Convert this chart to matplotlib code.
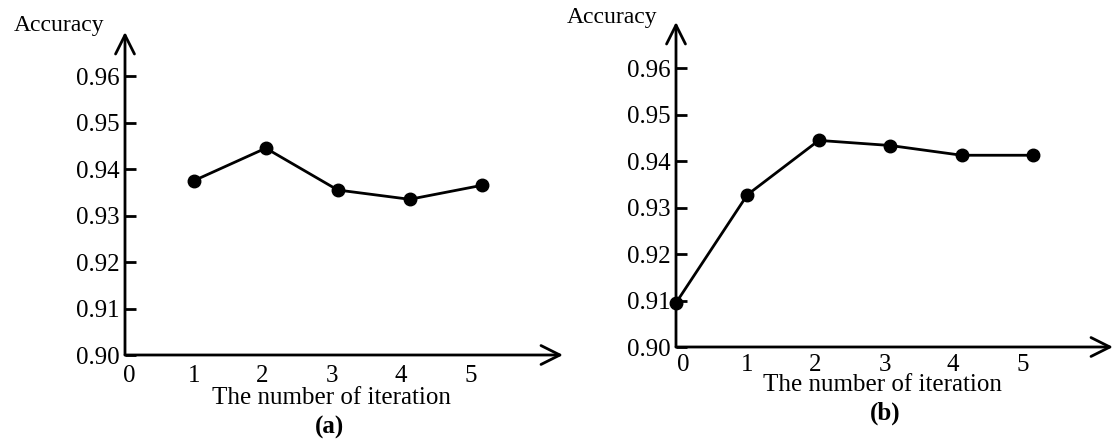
import matplotlib.pyplot as plt

# data
iter_a = [1, 2, 3, 4, 5]
acc_a = [0.9375, 0.9445, 0.9355, 0.9335, 0.9365]

iter_b = [0, 1, 2, 3, 4, 5]
acc_b = [0.9095, 0.9328, 0.9445, 0.9434, 0.9413, 0.9413]

yticks = [0.90, 0.91, 0.92, 0.93, 0.94, 0.95, 0.96]
xtick_labels = ['0', '1', '2', '3', '4', '5']
xtick_pos = [0.1, 1.0, 1.95, 2.92, 3.88, 4.85]

plt.rcParams['font.family'] = 'Liberation Serif'

fig = plt.figure(figsize=(11.13, 4.41), dpi=100)

W, H = 1113.0, 441.0


def make_axes(left, right, bottom, top, xmin, xmax, ymax, xpad):
    ax = fig.add_axes([left / W, 1 - bottom / H, (right - left) / W, (bottom - top) / H])
    ax.set_xlim(xmin, xmax)
    ax.set_ylim(0.90, ymax)
    for s in ax.spines.values():
        s.set_visible(False)
    ax.set_yticks(yticks)
    ax.set_yticklabels(['%.2f' % v for v in yticks])
    ax.set_xticks(xtick_pos)
    ax.set_xticklabels(xtick_labels)
    ax.tick_params(axis='y', direction='in', length=8, width=2, pad=4, labelsize=18)
    ax.tick_params(axis='x', length=0, pad=xpad, labelsize=18)
    # arrowed axes
    ax.annotate('', xy=(1, 0), xytext=(0, 0), xycoords='axes fraction',
                arrowprops=dict(arrowstyle='->', lw=2, mutation_scale=34, shrinkA=0, shrinkB=0),
                annotation_clip=False)
    ax.annotate('', xy=(0, 1), xytext=(0, 0), xycoords='axes fraction',
                arrowprops=dict(arrowstyle='->', lw=2, mutation_scale=34, shrinkA=0, shrinkB=0),
                annotation_clip=False)
    return ax


ax1 = make_axes(125, 563, 355, 32, 0.044, 6.13, 0.9695, 7)
ax1.plot(iter_a, acc_a, color='black', lw=2, marker='o', markersize=9, clip_on=False)

ax2 = make_axes(676, 1113, 347, 22, 0.0, 6.12, 0.970, 5)
ax2.plot(iter_b, acc_b, color='black', lw=2, marker='o', markersize=9, clip_on=False)

# labels placed like the original figure
fig.text(59 / W, 1 - 25 / H, 'Accuracy', ha='center', va='center', fontsize=17)
fig.text(612 / W, 1 - 17 / H, 'Accuracy', ha='center', va='center', fontsize=17)
fig.text(331 / W, 1 - 398 / H, 'The number of iteration', ha='center', va='center', fontsize=18)
fig.text(882 / W, 1 - 385 / H, 'The number of iteration', ha='center', va='center', fontsize=18)
fig.text(330 / W, 1 - 427 / H, '(a)', ha='center', va='center', fontsize=18, fontweight='bold')
fig.text(885 / W, 1 - 413 / H, '(b)', ha='center', va='center', fontsize=18, fontweight='bold')

fig.savefig('out.png', dpi=100)
